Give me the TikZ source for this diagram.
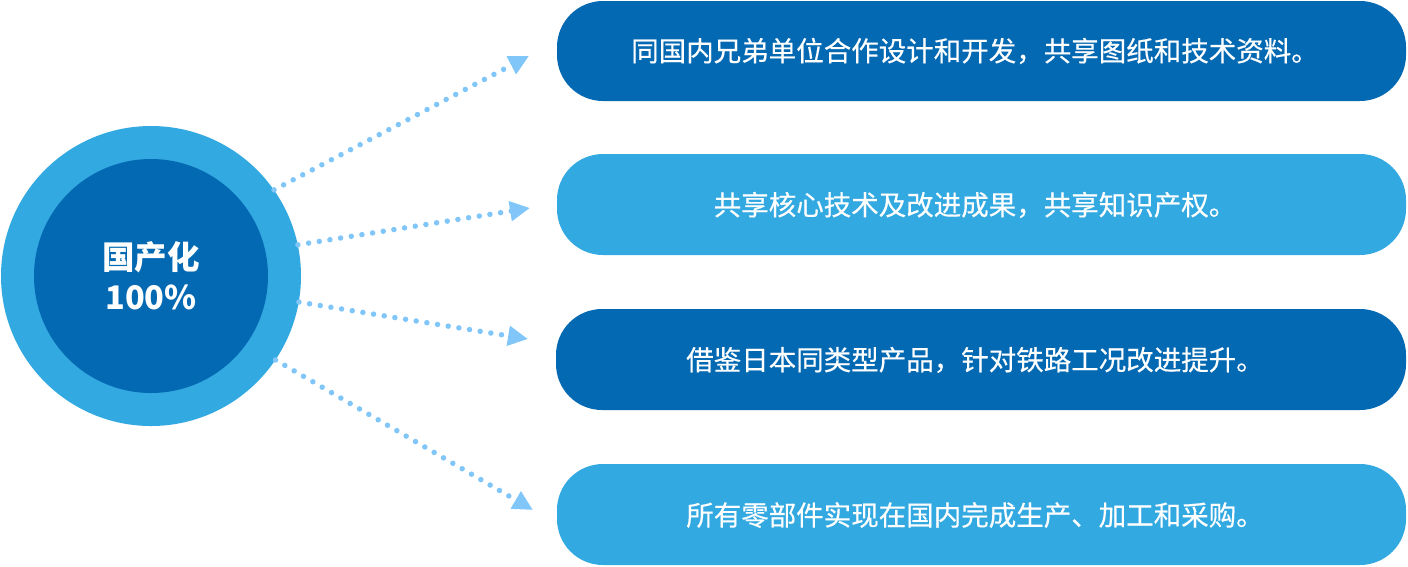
\documentclass[tikz,border=0pt]{standalone}
\usepackage{fontspec}
\newfontfamily\cjk{Noto Sans CJK SC}
\newfontfamily\cjkm[FakeBold=0.4]{Noto Sans CJK SC}
\usetikzlibrary{arrows.meta}
\definecolor{darkb}{HTML}{0469B3}
\definecolor{lightb}{HTML}{33A9E1}
\definecolor{arrowb}{HTML}{80C6F9}
\tikzset{
  pill/.style={fill=#1, draw=none, rounded corners=46pt},
  pilltext/.style={text=white, font=\cjkm\fontsize{27.5pt}{32pt}\selectfont, inner sep=0pt},
  dotarrow/.style={draw=arrowb, line width=5.5pt, line cap=round, dash pattern=on 0pt off 10.8pt,
     -{Triangle[length=20pt,width=19pt,line cap=butt]}},
}
\begin{document}
\begin{tikzpicture}[x=1pt,y=-1pt]
\useasboundingbox (0,0) rectangle (1408,566);
% center circle
\node[circle, fill=lightb, minimum size=300pt, inner sep=0pt] (outer) at (151,276) {};
\node[circle, fill=darkb, minimum size=234pt, inner sep=0pt] (inner) at (151,276) {};
\node[text=white, font=\cjk\bfseries\fontsize{32.5pt}{40pt}\selectfont, align=center, inner sep=0pt] (ctext) at (151,276) {国产化\\100\%};
% boxes
\fill[pill=darkb] (557,1) rectangle (1406,101);
\node[pilltext] (t1) at (975,51) {同国内兄弟单位合作设计和开发，共享图纸和技术资料。};
\fill[pill=lightb] (557,154) rectangle (1406,255);
\node[pilltext] (t2) at (975,205) {共享核心技术及改进成果，共享知识产权。};
\fill[pill=darkb] (556,309) rectangle (1406,410);
\node[pilltext] (t3) at (975,360) {借鉴日本同类型产品，针对铁路工况改进提升。};
\fill[pill=lightb] (557,464) rectangle (1406,565);
\node[pilltext] (t4) at (975,515) {所有零部件实现在国内完成生产、加工和采购。};
% arrow end points
\coordinate (e1) at (529,56);
\coordinate (e2) at (530,208);
\coordinate (e3) at (528,339);
\coordinate (e4) at (533,510);
\draw[dotarrow] (outer.35) -- (e1);
\draw[dotarrow] (outer.12.5) -- (e2);
\draw[dotarrow] (outer.-10.5) -- (e3);
\draw[dotarrow] (outer.-34) -- (e4);
\end{tikzpicture}
\end{document}
